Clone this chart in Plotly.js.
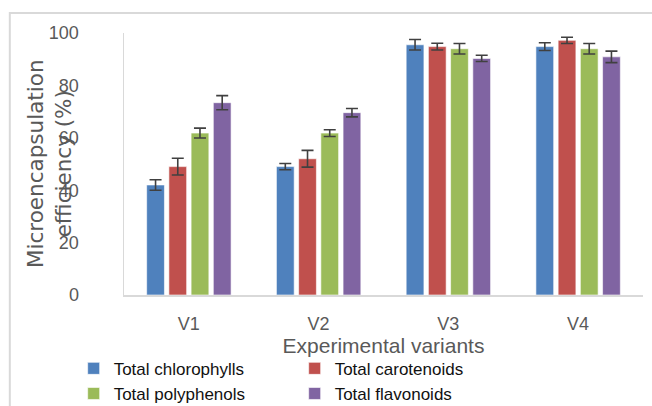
<!DOCTYPE html>
<html>
<head>
<meta charset="utf-8">
<script src="https://cdn.plot.ly/plotly-3.0.1.min.js"></script>
<style>
  body { margin: 0; background: #fff; }
  #chart { width: 652px; height: 406px; }
</style>
</head>
<body>
<div id="chart"></div>
<script>
//data
var variants = ["V1", "V2", "V3", "V4"];
var chlorophylls = [42, 49, 95.5, 94.8];
var chlorophyllsErr = [2, 1.2, 2, 1.5];
var carotenoids = [49, 52, 94.8, 97.2];
var carotenoidsErr = [3.2, 3.2, 1.3, 1.2];
var polyphenols = [61.8, 61.8, 94, 94];
var polyphenolsErr = [1.9, 1.3, 2, 2];
var flavonoids = [73.4, 69.6, 90.3, 90.9];
var flavonoidsErr = [2.7, 1.6, 1.2, 2.2];

var gray = "#595959";

//one bar trace per measured compound
function barTrace(name, values, errors, color) {
  return {
    type: "bar",
    name: name,
    x: variants,
    y: values,
    marker: { color: color, line: { color: "rgba(255,255,255,0.6)", width: 1 } },
    error_y: { type: "data", array: errors, visible: true, color: "#404040", thickness: 1.6, width: 6 },
  };
}

var data = [
  barTrace("Total chlorophylls", chlorophylls, chlorophyllsErr, "#4f81bd"),
  barTrace("Total carotenoids", carotenoids, carotenoidsErr, "#c0504d"),
  barTrace("Total polyphenols", polyphenols, polyphenolsErr, "#9bbb59"),
  barTrace("Total flavonoids", flavonoids, flavonoidsErr, "#8064a2"),
];

var layout = {
  width: 652,
  height: 406,
  margin: { l: 124, r: 9, t: 33, b: 111, autoexpand: false },
  paper_bgcolor: "#fff",
  plot_bgcolor: "#fff",
  font: { family: "Liberation Sans, Arial, sans-serif", color: gray },
  barmode: "group",
  bargap: 0.315,
  bargroupgap: 0.2,
  showlegend: true,
  legend: {
    orientation: "h",
    x: -0.097,
    y: -0.213,
    xanchor: "left",
    yanchor: "top",
    entrywidth: 176,
    font: { size: 17, color: "#111" },
    itemclick: false,
  },
  xaxis: {
    showline: true,
    linecolor: "#d9d9d9",
    linewidth: 1.5,
    ticks: "",
    ticklabelstandoff: 12,
    tickfont: { size: 18, color: gray },
    title: { text: "Experimental variants", font: { size: 21, color: gray }, standoff: 2 },
    fixedrange: true,
  },
  yaxis: {
    range: [0, 100],
    dtick: 20,
    showgrid: false,
    zeroline: false,
    showline: true,
    linecolor: "#d9d9d9",
    linewidth: 1.5,
    ticks: "",
    ticklabelstandoff: 40,
    tickfont: { size: 18, color: gray },
    fixedrange: true,
  },
  //y title overlaps the tick labels in the original, so it is an annotation
  annotations: [
    {
      text: "Microencapsulation<br>efficiency (%)",
      xref: "paper",
      yref: "paper",
      x: -0.1445,
      y: 0.5,
      xanchor: "center",
      yanchor: "middle",
      textangle: -90,
      showarrow: false,
      font: { family: "DejaVu Sans, sans-serif", size: 21.5, color: gray },
    },
  ],
  shapes: [
    {
      type: "rect",
      xref: "paper",
      yref: "paper",
      x0: -0.22,
      x1: 1.2,
      y0: -0.6,
      y1: 1.076,
      line: { color: "#d9d9d9", width: 2 },
      layer: "below",
    },
  ],
};

Plotly.newPlot("chart", data, layout, { displayModeBar: false, staticPlot: true });
</script>
</body>
</html>
